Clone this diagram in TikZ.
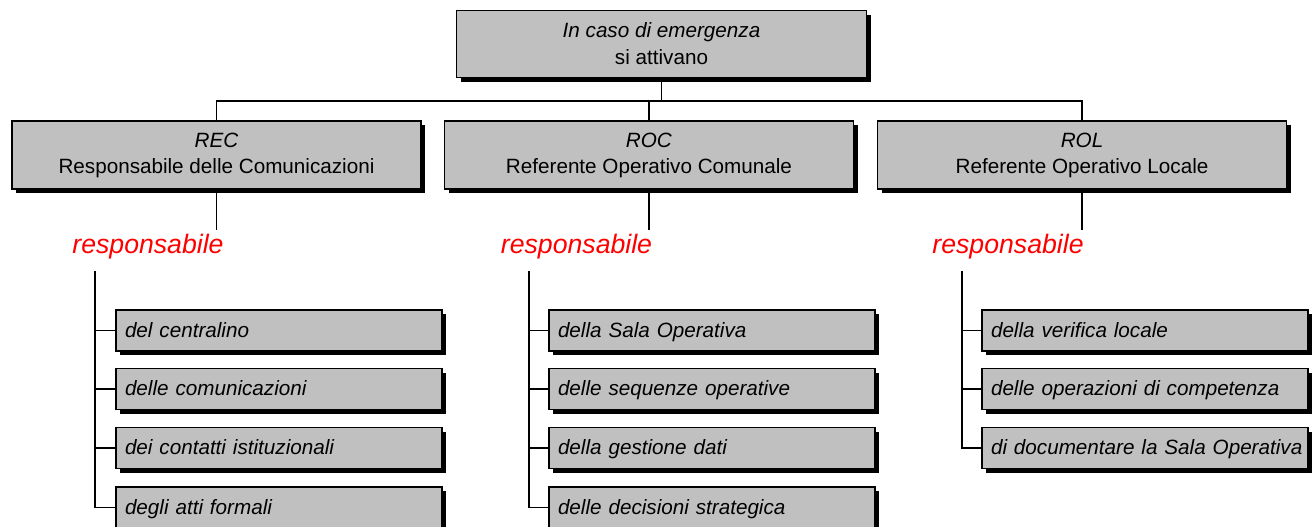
\documentclass[tikz,border=0pt]{standalone}
\usepackage{fontspec}
\setmainfont{Liberation Sans}
\usetikzlibrary{shadows}
\definecolor{boxgray}{HTML}{C0C0C0}
\definecolor{respred}{HTML}{FF0000}
\begin{document}
\begin{tikzpicture}[x=0.75pt,y=-0.75pt,
  box/.style={draw=black, line width=0.8pt, fill=boxgray,
    drop shadow={shadow xshift=3pt, shadow yshift=-3pt, fill=black, opacity=1}},
  headbox/.style={box, minimum width=307.5pt, minimum height=50.25pt, inner sep=0pt,
    align=center, font=\fontsize{15.5pt}{20.25pt}\selectfont},
  rolebox/.style={box, minimum width=306.75pt, minimum height=51pt, inner sep=0pt,
    align=center, font=\fontsize{15.5pt}{19.5pt}\selectfont},
  taskbox/.style={box, text width=240pt, inner xsep=2.25pt, inner ysep=0pt,
    minimum height=30.75pt, align=left, font=\fontsize{15.5pt}{18pt}\selectfont\itshape,
    execute at begin node={\rule[-3pt]{0pt}{16pt}\hspace*{4.5pt}}},
  resp/.style={anchor=base, text=respred, inner sep=0pt,
    font=\fontsize{20pt}{24pt}\selectfont\itshape},
  conn/.style={draw=black, line width=0.8pt}
]
\useasboundingbox (0,0) rectangle (1316,526);

% top
\node[headbox] (top) at (661.5,44) {\textit{In caso di emergenza}\\si attivano};

% roles
\node[rolebox] (rec) at (216.5,155) {\textit{REC}\\Responsabile delle Comunicazioni};
\node[rolebox] (roc) at (649,155) {\textit{ROC}\\Referente Operativo Comunale};
\node[rolebox] (rol) at (1082,155) {\textit{ROL}\\Referente Operativo Locale};

\coordinate (bus) at (0,101);
\draw[conn] (top.south) -- (top.south |- bus);
\draw[conn] (rec.north) -- (rec.north |- bus) -- (rol.north |- bus) -- (rol.north);
\draw[conn] (roc.north) -- (roc.north |- bus);

% responsabile labels
\coordinate (recEnd) at (216.5,230);
\coordinate (rocEnd) at (649,230);
\coordinate (rolEnd) at (1082,230);
\draw[conn] (rec.south) -- (recEnd);
\draw[conn] (roc.south) -- (rocEnd);
\draw[conn] (rol.south) -- (rolEnd);
\node[resp] (recR) at (148,253) {responsabile};
\node[resp] (rocR) at (576.5,253) {responsabile};
\node[resp] (rolR) at (1008,253) {responsabile};

% REC tasks
\node[taskbox] (a1) at (279,330.5) {del centralino};
\node[taskbox] (a2) at (279,389) {delle comunicazioni};
\node[taskbox] (a3) at (279,448) {dei contatti istituzionali};
\node[taskbox] (a4) at (279,507.5) {degli atti formali};
\coordinate (aTop) at (95,271);
\draw[conn] (aTop) -- (aTop |- a4.west) -- (a4.west);
\foreach \n in {a1,a2,a3} \draw[conn] (aTop |- \n.west) -- (\n.west);

% ROC tasks
\node[taskbox] (b1) at (712,330.5) {della Sala Operativa};
\node[taskbox] (b2) at (712,389) {delle sequenze operative};
\node[taskbox] (b3) at (712,448) {della gestione dati};
\node[taskbox] (b4) at (712,507.5) {delle decisioni strategica};
\coordinate (bTop) at (529,271);
\draw[conn] (bTop) -- (bTop |- b4.west) -- (b4.west);
\foreach \n in {b1,b2,b3} \draw[conn] (bTop |- \n.west) -- (\n.west);

% ROL tasks
\node[taskbox] (c1) at (1145,330.5) {della verifica locale};
\node[taskbox] (c2) at (1145,389) {delle operazioni di competenza};
\node[taskbox] (c3) at (1145,448) {di documentare la Sala Operativa};
\coordinate (cTop) at (962,271);
\draw[conn] (cTop) -- (cTop |- c3.west) -- (c3.west);
\foreach \n in {c1,c2} \draw[conn] (cTop |- \n.west) -- (\n.west);
\end{tikzpicture}
\end{document}
